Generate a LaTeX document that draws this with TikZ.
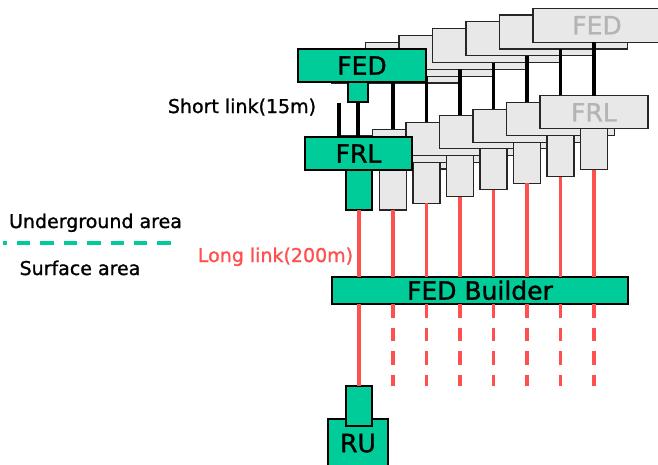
\documentclass[tikz,border=0pt]{standalone}
\usepackage{fontspec}
\setmainfont{DejaVu Sans}[FakeBold=1.2]
\definecolor{fedgreen}{HTML}{00CC99}
\definecolor{boxgray}{HTML}{E8E8E8}
\definecolor{txtgray}{HTML}{B4B4B4}
\definecolor{linkred}{HTML}{FF5050}
\begin{document}
\begin{tikzpicture}[x=1pt,y=-1pt,
  box/.style={draw=black, line width=1.1pt, inner sep=0pt, outer sep=0pt,
    font=\fontsize{25}{25}\selectfont, text height=18.2pt, text depth=0pt},
  greenbox/.style={box, fill=fedgreen},
  graybox/.style={box, fill=boxgray, text=txtgray, draw=black!85},
  blackline/.style={line width=3.3pt},
  redline/.style={draw=linkred, line width=3.3pt},
  reddash/.style={redline, dash pattern=on 13.5pt off 10pt},
  greendash/.style={draw=fedgreen, line width=4pt, dash pattern=on 13.4pt off 10pt, dash phase=9.4pt},
  lbl/.style={font=\fontsize{19}{19}\selectfont, anchor=base, inner sep=0pt}]
\useasboundingbox (0,0) rectangle (658,464);

% gray layers, left to right (right ones in front)
\foreach \j in {0,...,6} {
  \pgfmathsetmacro\cx{393+33.5*\j}
  \pgfmathsetmacro\fx{396+33.5*\j}
  \pgfmathsetmacro\fedy{66-6.8*\j}
  \pgfmathsetmacro\frly{152.5-6.7*\j}
  \pgfmathsetmacro\taby{189.5-6.7*\j}
  \ifnum\j=6
    \def\fedtxt{FED}\def\frltxt{FRL}
  \else
    \def\fedtxt{}\def\frltxt{}
  \fi
  \node[graybox, minimum width=128pt, minimum height=34pt] (fed\j) at (\fx,\fedy) {\fedtxt};
  \node[graybox, minimum width=108pt, minimum height=33pt] (frl\j) at (\cx,\frly) {\frltxt};
  \node[graybox, minimum width=27pt, minimum height=41pt] (tab\j) at (\cx,\taby) {};
  \draw[blackline] (tab\j.center |- fed\j.south) -- (tab\j.center |- frl\j.north);
}

% green front layer
\node[greenbox, minimum width=128pt, minimum height=33pt] (gfed) at (362,65.5) {FED};
\node[greenbox, minimum width=20pt, minimum height=20pt] (gfedtab) at (358,92) {};
\node[greenbox, minimum width=107pt, minimum height=33pt] (gfrl) at (358.5,153.5) {FRL};
\node[greenbox, minimum width=26pt, minimum height=40pt] (gfrltab) at (359,190) {};
\draw[blackline] (gfedtab.south) -- (gfedtab.south |- gfrl.north);
\coordinate (sl) at (339,103);
\draw[blackline] (sl) -- (sl |- gfrl.north);

% FED builder and RU
\node[greenbox, minimum width=296pt, minimum height=27pt] (builder) at (480,290.5) {FED Builder};
\node[greenbox, minimum width=60pt, minimum height=48pt] (ru) at (358,443) {RU};
\node[greenbox, minimum width=26pt, minimum height=40pt] (rutab) at (359,406) {};

% long links
\draw[redline] (gfrltab.south) -- (gfrltab.south |- builder.north);
\draw[redline] (gfrltab.south |- builder.south) -- (rutab.north);
\foreach \j in {0,...,6} {
  \draw[redline] (tab\j.south) -- (tab\j.south |- builder.north);
  \draw[reddash] (tab\j.south |- builder.south) -- (tab\j.south |- rutab.north);
}

% labels
\node[lbl] (short) at (242,113) {Short link(15m)};
\node[lbl] (under) at (95.5,228) {Underground area};
\node[lbl] (surf) at (80,275) {Surface area};
\node[lbl, text=linkred] (long) at (275.5,262) {Long link(200m)};
\coordinate (dl) at (3,243);
\coordinate (dr) at (171,243);
\draw[greendash] (dl) -- (dr);
\end{tikzpicture}
\end{document}
